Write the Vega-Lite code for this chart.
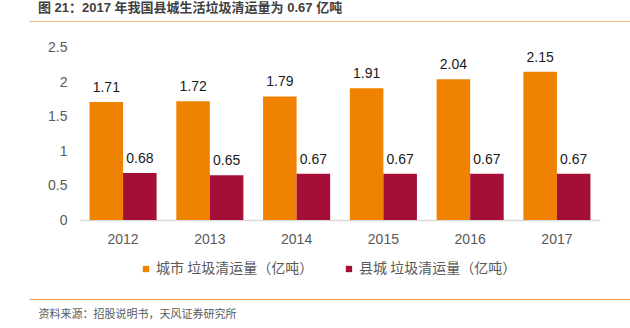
{
  "$schema": "https://vega.github.io/schema/vega-lite/v6.json",
  "width": 601,
  "height": 199,
  "autosize": "none",
  "padding": {"left": 29, "top": 21, "right": 0, "bottom": 108},
  "config": {
    "view": {"stroke": null},
    "font": "Liberation Sans"
  },
  "title": {
    "text": "图 21：2017 年我国县城生活垃圾清运量为 0.67 亿吨",
    "anchor": "start",
    "frame": "group",
    "dx": 9,
    "dy": 11,
    "offset": 7,
    "baseline": "alphabetic",
    "font": "Liberation Sans, Noto Sans CJK SC",
    "fontSize": 13,
    "fontWeight": "bold",
    "color": "#404040"
  },
  "data": {
    "values": [
      {"year": "2012", "series": "城市 垃圾清运量（亿吨）", "value": 1.71},
      {"year": "2012", "series": "县城 垃圾清运量（亿吨）", "value": 0.68},
      {"year": "2013", "series": "城市 垃圾清运量（亿吨）", "value": 1.72},
      {"year": "2013", "series": "县城 垃圾清运量（亿吨）", "value": 0.65},
      {"year": "2014", "series": "城市 垃圾清运量（亿吨）", "value": 1.79},
      {"year": "2014", "series": "县城 垃圾清运量（亿吨）", "value": 0.67},
      {"year": "2015", "series": "城市 垃圾清运量（亿吨）", "value": 1.91},
      {"year": "2015", "series": "县城 垃圾清运量（亿吨）", "value": 0.67},
      {"year": "2016", "series": "城市 垃圾清运量（亿吨）", "value": 2.04},
      {"year": "2016", "series": "县城 垃圾清运量（亿吨）", "value": 0.67},
      {"year": "2017", "series": "城市 垃圾清运量（亿吨）", "value": 2.15},
      {"year": "2017", "series": "县城 垃圾清运量（亿吨）", "value": 0.67}
    ]
  },
  "layer": [
    {
      "encoding": {
        "x": {
          "field": "year",
          "type": "nominal",
          "scale": {"range": [51, 571], "paddingInner": 0.227, "paddingOuter": 0.11},
          "axis": {
            "title": null,
            "domainColor": "#D9D9D9",
            "domainWidth": 1.5,
            "ticks": false,
            "labelAngle": 0,
            "labelFont": "Liberation Sans",
            "labelFontSize": 14,
            "labelColor": "#595959",
            "labelPadding": 12
          }
        },
        "xOffset": {
          "field": "series",
          "type": "nominal",
          "sort": ["城市 垃圾清运量（亿吨）", "县城 垃圾清运量（亿吨）"],
          "scale": {"paddingInner": 0, "paddingOuter": 0}
        },
        "y": {
          "field": "value",
          "type": "quantitative",
          "scale": {"domain": [0, 2.5], "range": [199, 26.5], "nice": false, "zero": true},
          "axis": {
            "title": null,
            "values": [0, 0.5, 1, 1.5, 2, 2.5],
            "format": ".1~f",
            "domain": false,
            "ticks": false,
            "tickSize": 0,
            "grid": false,
            "offset": -41,
            "labelPadding": 3,
            "labelFont": "Liberation Sans",
            "labelFontSize": 14,
            "labelColor": "#595959"
          }
        }
      },
      "layer": [
        {
          "mark": {"type": "bar"},
          "encoding": {
            "color": {
              "field": "series",
              "type": "nominal",
              "scale": {
                "domain": ["城市 垃圾清运量（亿吨）", "县城 垃圾清运量（亿吨）"],
                "range": ["#EF8200", "#A50E37"]
              },
              "legend": {
                "title": null,
                "orient": "none",
                "direction": "horizontal",
                "legendX": 110,
                "legendY": 241,
                "symbolType": "square",
                "symbolSize": 40,
                "symbolStrokeWidth": 0,
                "labelFont": "Noto Sans CJK SC",
                "labelFontSize": 14,
                "labelColor": "#595959",
                "labelOffset": 3,
                "columnPadding": 28
              }
            }
          }
        },
        {
          "mark": {
            "type": "text",
            "baseline": "alphabetic",
            "dy": -10,
            "font": "Liberation Sans",
            "fontSize": 14,
            "color": "#1a1a1a"
          },
          "encoding": {
            "text": {"field": "value", "type": "quantitative", "format": ".2f"}
          }
        }
      ]
    },
    {
      "mark": {"type": "rule", "opacity": 0},
      "encoding": {
        "x": {
          "field": "year",
          "type": "nominal",
          "axis": {
            "orient": "top",
            "title": null,
            "labels": false,
            "ticks": false,
            "domainColor": "#F5B47C",
            "domainWidth": 1.2
          }
        }
      }
    },
    {
      "mark": {"type": "rule", "opacity": 0},
      "encoding": {
        "x": {
          "field": "year",
          "type": "nominal",
          "axis": {
            "orient": "bottom",
            "offset": 79,
            "labels": false,
            "ticks": false,
            "domainColor": "#EE9A55",
            "domainWidth": 1.2,
            "title": "资料来源：招股说明书，天风证券研究所",
            "titleAnchor": "start",
            "titleAlign": "left",
            "titleBaseline": "middle",
            "titleX": 9,
            "titleY": 15,
            "titleFont": "Noto Sans CJK SC",
            "titleFontSize": 11,
            "titleFontWeight": "normal",
            "titleColor": "#595959"
          }
        }
      }
    }
  ],
  "resolve": {"scale": {"x": "independent"}, "axis": {"x": "independent"}}
}
